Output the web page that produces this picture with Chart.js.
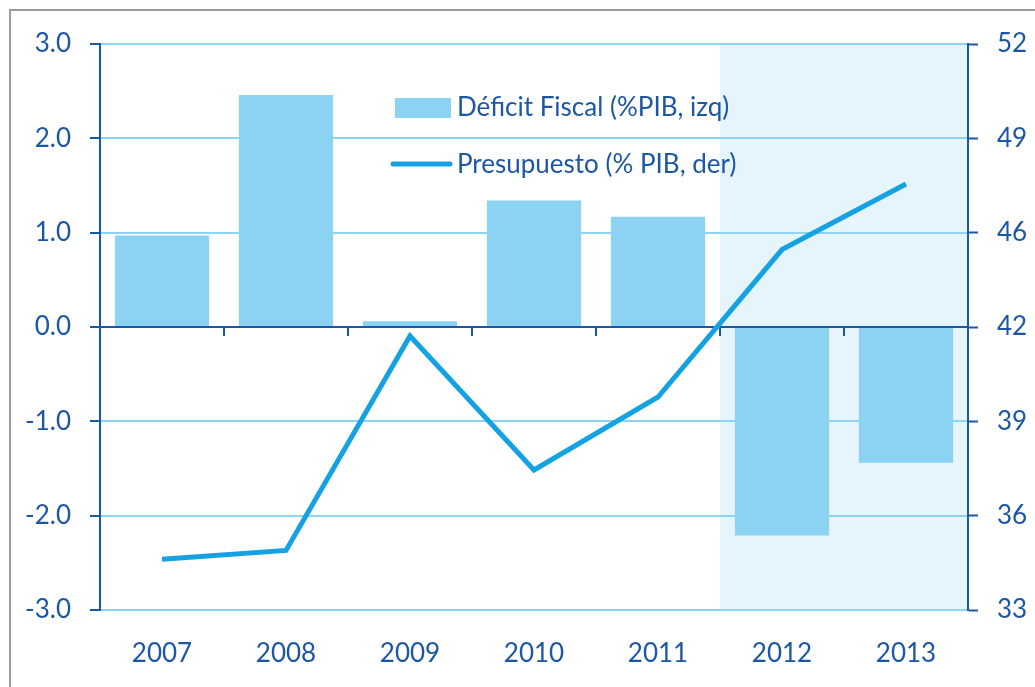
<!DOCTYPE html>
<html>
<head>
<meta charset="utf-8">
<script src="https://cdn.jsdelivr.net/npm/chart.js@4/dist/chart.umd.min.js"></script>
<style>
  html, body { margin: 0; padding: 0; background: #fff; }
  #wrap { position: relative; width: 1035px; height: 687px; }
</style>
</head>
<body>
<div id="wrap"><canvas id="c" width="1035" height="687"></canvas></div>
<script>
const categories = ['2007', '2008', '2009', '2010', '2011', '2012', '2013'];
const deficit = [0.97, 2.46, 0.06, 1.34, 1.17, -2.21, -1.44];
const budget = [34.7, 35.0, 42.2, 37.7, 40.15, 45.1, 47.3];
const rightTickLabels = ['33', '36', '39', '42', '46', '49', '52'];
const legendLabels = ['Déficit Fiscal (%PIB, izq)', 'Presupuesto (% PIB, der)'];
const shadeFromIndex = 5;

const AXIS = '#1C57A5';
const TEXT = '#1C57A5';
const GRID = '#8DD3F3';
const BAR = '#8CD2F2';
const LINE = '#14A2E3';
const SHADE = '#E6F4FB';
const FONT = 'Lato';

const rightMin = 33, rightMax = 52;

const decor = {
  id: 'decor',
  beforeDraw(chart) {
    const ctx = chart.ctx, a = chart.chartArea, x = chart.scales.x;
    ctx.save();
    // outer frame
    ctx.strokeStyle = '#9a9a9a';
    ctx.lineWidth = 2;
    ctx.beginPath();
    ctx.moveTo(10, 687); ctx.lineTo(10, 10); ctx.lineTo(1035, 10);
    ctx.stroke();
    // shaded forecast region
    const xs = (x.getPixelForValue(shadeFromIndex - 1) + x.getPixelForValue(shadeFromIndex)) / 2;
    ctx.fillStyle = SHADE;
    ctx.fillRect(xs, a.top, a.right - xs, a.bottom - a.top);
    ctx.restore();
  },
  afterDatasetDraw(chart, args) {
    if (args.index !== 0) return;
    const ctx = chart.ctx, a = chart.chartArea, x = chart.scales.x, y = chart.scales.y;
    const y0 = Math.round(y.getPixelForValue(0));
    ctx.save();
    ctx.strokeStyle = AXIS;
    ctx.lineWidth = 2;
    ctx.beginPath();
    ctx.moveTo(a.left, y0); ctx.lineTo(a.right, y0);
    for (let i = 0; i <= categories.length; i++) {
      let px;
      if (i === 0) px = a.left;
      else if (i === categories.length) px = a.right;
      else px = Math.round((x.getPixelForValue(i - 1) + x.getPixelForValue(i)) / 2);
      ctx.moveTo(px, y0); ctx.lineTo(px, y0 + 9);
    }
    ctx.stroke();
    ctx.restore();
  },
  afterDatasetsDraw(chart) {
    const ctx = chart.ctx;
    ctx.save();
    ctx.font = '26px ' + FONT;
    ctx.fillStyle = TEXT;
    ctx.textBaseline = 'middle';
    // bar legend
    ctx.fillStyle = BAR;
    ctx.fillRect(395, 98, 56, 20);
    ctx.fillStyle = TEXT;
    ctx.fillText(legendLabels[0], 457, 108);
    // line legend
    ctx.strokeStyle = LINE;
    ctx.lineWidth = 5;
    ctx.lineCap = 'round';
    ctx.beginPath();
    ctx.moveTo(393, 164); ctx.lineTo(450, 164);
    ctx.stroke();
    ctx.fillText(legendLabels[1], 457, 165);
    ctx.restore();
  }
};

new Chart(document.getElementById('c'), {
  data: {
    labels: categories,
    datasets: [
      {
        type: 'bar',
        label: legendLabels[0],
        data: deficit,
        backgroundColor: BAR,
        borderWidth: 0,
        barPercentage: 0.76,
        categoryPercentage: 1,
        yAxisID: 'y',
        order: 2
      },
      {
        type: 'line',
        label: legendLabels[1],
        data: budget,
        borderColor: LINE,
        borderWidth: 5,
        pointRadius: 0,
        tension: 0,
        fill: false,
        yAxisID: 'y1',
        order: 1
      }
    ]
  },
  options: {
    responsive: false,
    animation: false,
    layout: { padding: { top: 44, left: 0, right: 0, bottom: 0 } },
    plugins: { legend: { display: false }, tooltip: { enabled: false } },
    scales: {
      x: {
        type: 'category',
        offset: true,
        grid: { display: false, drawTicks: false },
        border: { display: false },
        ticks: { color: TEXT, font: { family: FONT, size: 26 }, padding: 28, maxRotation: 0 },
        afterFit(s) { s.height = 77; }
      },
      y: {
        position: 'left',
        min: -3, max: 3,
        ticks: { stepSize: 1, color: TEXT, font: { family: FONT, size: 26 }, padding: 19,
                 callback: v => v.toFixed(1) },
        grid: { color: GRID, lineWidth: 2, tickColor: AXIS, tickLength: 10, tickWidth: 2 },
        border: { display: true, color: AXIS, width: 2 },
        afterFit(s) { s.width = 100; }
      },
      y1: {
        position: 'right',
        min: rightMin, max: rightMax,
        afterBuildTicks(s) {
          s.ticks = rightTickLabels.map((l, i) => ({ value: rightMin + i * (rightMax - rightMin) / (rightTickLabels.length - 1) }));
        },
        ticks: { color: TEXT, font: { family: FONT, size: 26 }, padding: 19,
                 callback: (v, i) => rightTickLabels[i] },
        grid: { drawOnChartArea: false, tickColor: AXIS, tickLength: 10, tickWidth: 2 },
        border: { display: true, color: AXIS, width: 2 },
        afterFit(s) { s.width = 67; }
      }
    }
  },
  plugins: [decor]
});
</script>
</body>
</html>
